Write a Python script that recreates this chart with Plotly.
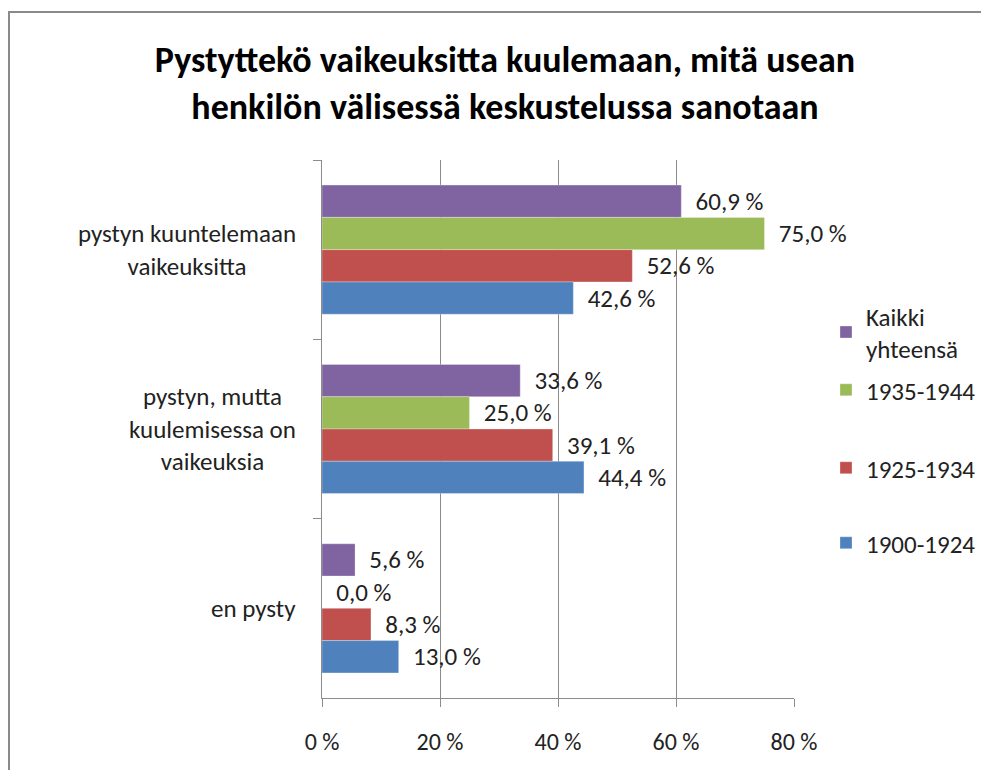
import plotly.graph_objects as go

categories = ["pystyn kuuntelemaan<br>vaikeuksitta",
              "pystyn, mutta<br>kuulemisessa on<br>vaikeuksia",
              "en pysty"]
series_names = ["Kaikki<br>yhteensä", "1935-1944", "1925-1934", "1900-1924"]
kaikki = [60.9, 33.6, 5.6]
v1935 = [75.0, 25.0, 0.0]
v1925 = [52.6, 39.1, 8.3]
v1900 = [42.6, 44.4, 13.0]
x_ticks = [0, 20, 40, 60, 80]
x_ticktext = ["0 %", "20 %", "40 %", "60 %", "80 %"]
colors = ["#8064A2", "#9BBB59", "#C0504D", "#4F81BD"]

FONT = "Carlito, Lato, sans-serif"
OFF = 8  # page body margin
W, H = 989 - 2 * OFF, 778 - 2 * OFF
L, R, T, B = 322 - OFF, 794 - OFF, 160 - OFF, 698 - OFF


def px_x(p):  # reference pixel -> paper x
    return (p - OFF - L) / (R - L)


def px_y(p):  # reference pixel -> paper y
    return 1 - (p - OFF - T) / (B - T)


def fmt(v):
    return "  " + f"{v:.1f}".replace(".", ",") + " %"


legend_ids = ["legend", "legend2", "legend3", "legend4"]
legend_y = [332, 390, 468, 543]

fig = go.Figure()
for name, vals, c, lg in zip(series_names, [kaikki, v1935, v1925, v1900], colors, legend_ids):
    fig.add_trace(go.Bar(
        x=vals, y=categories, orientation="h", name=name,
        marker=dict(color=c, line=dict(color="rgba(255,255,255,0.6)", width=0.5)),
        text=[fmt(v) for v in vals], textposition="outside",
        textfont=dict(family=FONT, size=25, color="#222"),
        cliponaxis=False, legend=lg,
    ))

legend_common = dict(x=px_x(826), xanchor="left", yanchor="middle",
                     font=dict(family=FONT, size=25, color="#222"),
                     bgcolor="rgba(0,0,0,0)")

fig.update_layout(
    width=W, height=H,
    margin=dict(l=L, r=W - R, t=T, b=H - B, autoexpand=False),
    paper_bgcolor="white", plot_bgcolor="white",
    barmode="group", bargap=0.28, bargroupgap=0,
    font=dict(family=FONT, size=25, color="#222"),
    title=dict(text="Pystyttekö vaikeuksitta kuulemaan, mitä usean<br>henkilön välisessä keskustelussa sanotaan",
               x=(505 - OFF) / W, xanchor="center", y=1 - (72 - OFF) / H, yanchor="middle",
               font=dict(family=FONT, size=36, color="#000", weight="bold")),
    showlegend=True,
    xaxis=dict(range=[0, 80], tickvals=x_ticks, ticktext=x_ticktext,
               showgrid=True, gridcolor="#8c8c8c", gridwidth=1,
               showline=True, linecolor="#8c8c8c", linewidth=1,
               ticks="outside", ticklen=8, tickcolor="#8c8c8c", ticklabelstandoff=14,
               tickfont=dict(family=FONT, size=24, color="#222"), zeroline=False),
    yaxis=dict(autorange="reversed", showticklabels=False,
               showline=True, linecolor="#8c8c8c", linewidth=1,
               ticks="outside", ticklen=8, tickcolor="#8c8c8c", tickson="boundaries",
               showgrid=False, zeroline=False),
)
for lg, yv in zip(legend_ids, legend_y):
    fig.update_layout({lg: dict(legend_common, y=px_y(yv))})

for cat in categories:
    fig.add_annotation(text=cat, x=px_x(298), xref="paper", y=cat, yref="y",
                       xanchor="right", yanchor="middle", align="center", showarrow=False,
                       font=dict(family=FONT, size=25, color="#222"))

# outer frame
fig.add_shape(type="rect", xref="paper", yref="paper",
              x0=px_x(OFF + 1), x1=px_x(1010),
              y0=px_y(820), y1=px_y(12),
              line=dict(color="#8a8a8a", width=2), layer="below")

fig.write_html("out.html")
